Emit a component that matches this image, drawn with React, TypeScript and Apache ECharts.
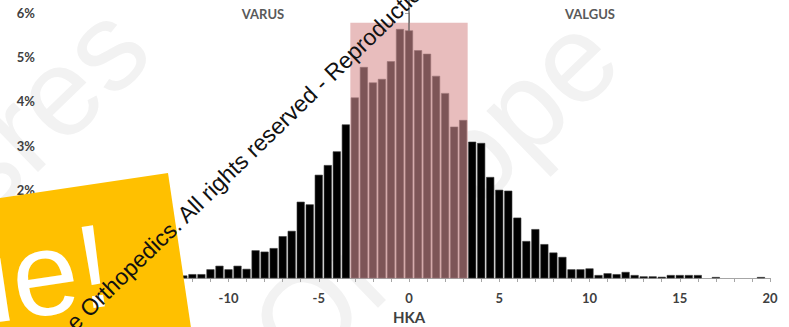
import React, { useEffect, useRef } from "react";
import * as echarts from "echarts";

// HKA bin centres (degrees) and share of knees (%)
const HKA = [
  -13, -12.5, -12, -11.5, -11, -10.5, -10, -9.5, -9, -8.5, -8, -7.5, -7, -6.5,
  -6, -5.5, -5, -4.5, -4, -3.5, -3, -2.5, -2, -1.5, -1, -0.5, 0, 0.5, 1, 1.5,
  2, 2.5, 3, 3.5, 4, 4.5, 5, 5.5, 6, 6.5, 7, 7.5, 8, 8.5, 9, 9.5, 10, 10.5, 11,
  11.5, 12, 12.5, 13, 13.5, 14, 14.5, 15, 15.5, 16, 17, 19.5,
];
const PCT = [
  0.03, 0.05, 0.08, 0.08, 0.19, 0.27, 0.19, 0.27, 0.2, 0.62, 0.59, 0.67, 0.94,
  1.06, 1.72, 1.66, 2.33, 2.55, 2.86, 3.47, 4.08, 4.77, 4.42, 4.5, 4.9, 5.63,
  5.6, 5.15, 5.07, 4.57, 4.18, 3.42, 3.57, 3.08, 3.05, 2.28, 1.99, 1.97, 1.36,
  0.83, 1.1, 0.76, 0.57, 0.47, 0.19, 0.19, 0.21, 0.06, 0.1, 0.08, 0.13, 0.06,
  0.03, 0.03, 0.02, 0.06, 0.06, 0.06, 0.06, 0.015, 0.015,
];
const BIN = 0.5;
// neutral zone: [from, to, height %]
const NEUTRAL = [-3.25, 3.25, 5.78];
// neutral marker line: [x, from %, to %]
const MARKER = [0, 5.6, 6.4];
const X_LABELS = [-20, -15, -10, -5, 0, 5, 10, 15, 20];
const ZONE_LABELS = ["VARUS", "VALGUS"];

export default function App() {
  const ref = useRef<HTMLDivElement>(null);
  useEffect(() => {
    if (!ref.current) return;
    const chart = echarts.init(ref.current, undefined, { renderer: "svg" });
    const bars = HKA.map((x, i) => [x, PCT[i]]);
    const labelFont = "Lato";
    const rotW = 0.768;
    const rotY = 0.148;
    chart.setOption({
      animation: false,
      grid: { left: 48, right: 19, top: 13, bottom: 49, containLabel: false, outerBoundsMode: "none" },
      xAxis: {
        type: "value",
        min: -20,
        max: 20,
        interval: 1,
        name: "HKA",
        nameLocation: "middle",
        nameGap: 31,
        nameTextStyle: { fontFamily: labelFont, fontWeight: "bold", fontSize: 15, color: "#404040" },
        axisLine: { show: true, lineStyle: { color: "#a6a6a6", width: 1 } },
        axisTick: { show: true, length: 4, lineStyle: { color: "#a6a6a6" } },
        splitLine: { show: false },
        axisLabel: {
          margin: 13,
          fontFamily: labelFont,
          fontWeight: "bold",
          fontSize: 13,
          color: "#404040",
          formatter: (v: number) => (X_LABELS.includes(v) ? String(v) : ""),
        },
      },
      yAxis: {
        type: "value",
        min: 0,
        max: 6,
        interval: 1,
        axisLine: { show: true, lineStyle: { color: "#a6a6a6", width: 1 } },
        axisTick: { show: true, length: 4, lineStyle: { color: "#a6a6a6" } },
        splitLine: { show: false },
        axisLabel: {
          margin: 13,
          fontFamily: labelFont,
          fontWeight: "bold",
          fontSize: 13,
          color: "#404040",
          formatter: (v: number) => `${v}%`,
        },
      },
      graphic: [
        // faint background watermark
        {
          type: "text",
          x: 0,
          y: 235,
          rotation: rotW,
          z: -10,
          style: { text: "sres", fill: "#f2f2f2", font: "normal 125px 'Liberation Sans'", align: "left", verticalAlign: "bottom" },
        },
        {
          type: "text",
          x: 315,
          y: 395,
          rotation: rotW,
          z: -10,
          style: { text: "Orthope", fill: "#f2f2f2", font: "normal 125px 'Liberation Sans'", align: "left", verticalAlign: "bottom" },
        },
        {
          type: "text",
          x: 263,
          y: 14,
          z: 5,
          style: { text: ZONE_LABELS[0], fill: "#595959", font: "bold 13px Lato", align: "center", verticalAlign: "middle" },
        },
        {
          type: "text",
          x: 590,
          y: 14,
          z: 5,
          style: { text: ZONE_LABELS[1], fill: "#595959", font: "bold 13px Lato", align: "center", verticalAlign: "middle" },
        },
        {
          type: "group",
          x: 168,
          y: 173,
          rotation: rotY,
          z: 100,
          children: [
            { type: "rect", z: 100, shape: { x: -400, y: 0, width: 400, height: 320 }, style: { fill: "#FFC000" } },
            {
              type: "text",
              z: 101,
              x: -71,
              y: 81,
              style: { text: "ue!", fill: "#ffffff", font: "normal 119px 'Liberation Sans'", align: "right", verticalAlign: "middle" },
            },
          ],
        },
        {
          type: "text",
          x: 70,
          y: 326,
          rotation: rotW,
          z: 110,
          style: {
            text: "e Orthopedics. All rights reserved - Reproduction",
            fill: "#111111",
            font: "normal 23px 'Liberation Sans'",
            align: "left",
            verticalAlign: "middle",
          },
        },
      ],
      series: [
        {
          type: "custom",
          z: 1,
          silent: true,
          data: [NEUTRAL],
          encode: { x: [0, 1], y: 2 },
          renderItem: (params: any, api: any) => {
            const p0 = api.coord([api.value(0), api.value(2)]);
            const p1 = api.coord([api.value(1), 0]);
            return {
              type: "rect",
              shape: { x: p0[0], y: p0[1], width: p1[0] - p0[0], height: p1[1] - p0[1] },
              style: { fill: "#e8bdbd" },
            };
          },
        },
        {
          type: "custom",
          z: 2,
          data: bars,
          encode: { x: 0, y: 1 },
          renderItem: (params: any, api: any) => {
            const x = api.value(0);
            const y = api.value(1);
            const p0 = api.coord([x - BIN / 2, y]);
            const p1 = api.coord([x + BIN / 2, 0]);
            const inside = x > NEUTRAL[0] && x < NEUTRAL[1];
            const gap = 1.6;
            return {
              type: "rect",
              shape: { x: p0[0] + gap / 2, y: p0[1], width: p1[0] - p0[0] - gap, height: p1[1] - p0[1] },
              style: {
                fill: inside ? "#7d5557" : "#000000",
                stroke: inside ? "#9b7375" : "#3a3a3a",
                lineWidth: 0.6,
              },
            };
          },
        },
        {
          type: "custom",
          z: 3,
          silent: true,
          clip: false,
          data: [MARKER],
          encode: { x: 0, y: [1, 2] },
          renderItem: (params: any, api: any) => {
            const a = api.coord([api.value(0), api.value(1)]);
            const b = api.coord([api.value(0), api.value(2)]);
            return {
              type: "line",
              shape: { x1: a[0], y1: a[1], x2: b[0], y2: b[1] },
              style: { stroke: "#555555", lineWidth: 1.2 },
            };
          },
        },
      ],
    });
    return () => chart.dispose();
  }, []);
  return (
    <div
      ref={ref}
      style={{ position: "fixed", left: 0, top: 0, width: 789, height: 327, background: "#ffffff" }}
    />
  );
}
